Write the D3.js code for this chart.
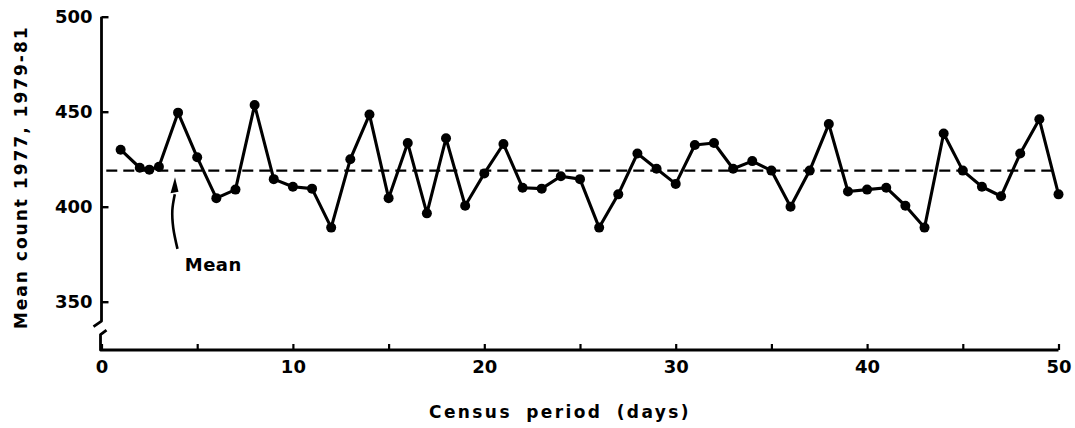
<!DOCTYPE html>
<html>
<head>
<meta charset="utf-8">
<script src="https://cdn.jsdelivr.net/npm/d3@7"></script>
<style>
  html, body { margin: 0; padding: 0; background: #fff; }
  svg { display: block; }
  text { font-family: "DejaVu Sans", sans-serif; font-weight: bold; fill: #000; }
</style>
</head>
<body>
<svg id="chart" width="1075" height="428"></svg>
<script>
// ---- data ----
const days = [1, 2, 2.5, 3, 4, 5, 6, 7, 8, 9, 10, 11, 12, 13, 14, 15, 16, 17, 18, 19, 20,
  21, 22, 23, 24, 25, 26, 27, 28, 29, 30, 31, 32, 33, 34, 35, 36, 37, 38, 39, 40,
  41, 42, 43, 44, 45, 46, 47, 48, 49, 50];
const counts = [430, 420.5, 419.5, 421, 449.5, 426, 404.5, 409, 453.5, 414.5, 410.5, 409.5, 389,
  425, 448.5, 404.5, 433.5, 396.5, 436, 400.5, 417.5, 433, 410, 409.5, 416, 414.5,
  389, 406.5, 428, 420, 412, 432.5, 433.5, 420, 424, 419, 400, 419,
  443.5, 408, 409, 410, 400.5, 389, 438.5, 419, 410.5, 405.5, 428, 446, 406.5];
const meanValue = 419;
const yTicks = [350, 400, 450, 500];
const xTicks = [0, 5, 10, 15, 20, 25, 30, 35, 40, 45, 50];
const xLabel = "Census period (days)";
const yLabel = "Mean count 1977, 1979-81";
const meanLabel = "Mean";

// ---- layout ----
const svg = d3.select("#chart");
const x = d3.scaleLinear().domain([0, 50]).range([101.5, 1058.5]);
const y = d3.scaleLinear().domain([350, 500]).range([301.7, 16.7]);
const xAxisY = 350;

// y axis ticks and labels
const gy = svg.append("g").attr("transform", `translate(${x(0)},0)`)
  .call(d3.axisLeft(y).tickValues(yTicks).tickSize(-7).tickPadding(9).tickFormat(d3.format("d")));
gy.select(".domain").remove();
gy.selectAll(".tick line").attr("stroke", "#000").attr("stroke-width", 2.4);
gy.selectAll(".tick text").style("font-size", "18px").style("font-family", "DejaVu Sans").style("font-weight", "bold");

// x axis ticks and labels
const gx = svg.append("g").attr("transform", `translate(0,${xAxisY})`)
  .call(d3.axisBottom(x).tickValues(xTicks).tickSize(-6).tickPadding(10)
    .tickFormat(d => d % 10 === 0 ? d : ""));
gx.select(".domain").remove();
gx.selectAll(".tick line").attr("stroke", "#000").attr("stroke-width", 2.2);
gx.selectAll(".tick text").style("font-size", "18px").style("font-family", "DejaVu Sans").style("font-weight", "bold");

// axis lines with break
const x0 = x(0);
const breakTop = y(339.8);
svg.append("path")
  .attr("d", `M${x0},${y(500)} V${breakTop} l-8,5.5`)
  .attr("fill", "none").attr("stroke", "#000").attr("stroke-width", 2.8).attr("stroke-linejoin", "round");
svg.append("path")
  .attr("d", `M${x0 + 5},${breakTop + 9} l-6,4.5 V${xAxisY} H${x(50)}`)
  .attr("fill", "none").attr("stroke", "#000").attr("stroke-width", 2.8).attr("stroke-linejoin", "round");

// mean line
svg.append("line")
  .attr("x1", x(0.25)).attr("x2", x(49.7))
  .attr("y1", y(meanValue)).attr("y2", y(meanValue))
  .attr("stroke", "#000").attr("stroke-width", 2.2).attr("stroke-dasharray", "11,6");

// data line
const pts = days.map((d, i) => [d, counts[i]]);
svg.append("path")
  .datum(pts)
  .attr("d", d3.line().x(d => x(d[0])).y(d => y(d[1])))
  .attr("fill", "none").attr("stroke", "#000").attr("stroke-width", 3.1).attr("stroke-linejoin", "round");
svg.append("g").selectAll("circle").data(pts).join("circle")
  .attr("cx", d => x(d[0])).attr("cy", d => y(d[1])).attr("r", 5).attr("fill", "#000");

// mean annotation arrow
const arrowPts = [[3.97, 377.8], [3.75, 388.8], [3.7, 398], [3.83, 406.5]];
svg.append("path")
  .attr("d", d3.line().x(d => x(d[0])).y(d => y(d[1])).curve(d3.curveCatmullRom)(arrowPts))
  .attr("fill", "none").attr("stroke", "#000").attr("stroke-width", 2.6);
const tip = [x(3.84), y(415.5)];
svg.append("path")
  .attr("d", `M${tip[0]},${tip[1]} L${tip[0] - 4.5},${tip[1] + 16} L${tip[0] + 3.5},${tip[1] + 14.5} Z`)
  .attr("fill", "#000");
svg.append("text").attr("x", x(4.35)).attr("y", y(366))
  .style("font-size", "18px").style("letter-spacing", "0.5px").text(meanLabel);

// axis titles
svg.append("text")
  .attr("transform", `translate(27,${y(415.5)}) rotate(-90)`)
  .attr("text-anchor", "middle")
  .style("font-size", "17px").style("letter-spacing", "2px")
  .text(yLabel);
svg.append("text")
  .attr("x", (x(0) + x(50)) / 2 - 20).attr("y", 418)
  .attr("text-anchor", "middle")
  .style("font-size", "17px").style("letter-spacing", "2.4px").style("word-spacing", "6px")
  .text(xLabel);
</script>
</body>
</html>
